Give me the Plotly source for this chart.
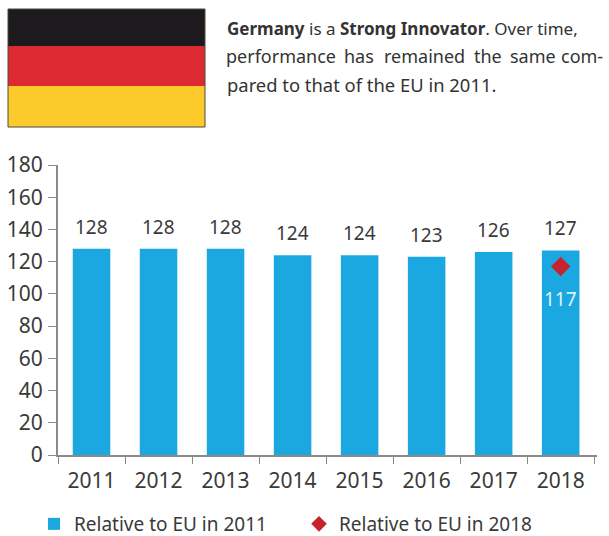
import plotly.graph_objects as go

years = ["2011", "2012", "2013", "2014", "2015", "2016", "2017", "2018"]
rel_2011 = [128, 128, 128, 124, 124, 123, 126, 127]
rel_2018_year = ["2018"]
rel_2018 = [117]
y_ticks = [0, 20, 40, 60, 80, 100, 120, 140, 160, 180]

W, H = 609, 536
L, R, T, B = 58, 12, 165, 81
FONT = "Noto Sans"
TXT = "#3a3a3a"
BLUE = "#1ba7e0"
RED = "#c5242e"


def px(x):
    return (x - L) / (W - L - R)


def py(y):
    return 1 - (y - T) / (H - T - B)


fig = go.Figure()
fig.add_bar(x=years, y=rel_2011, name="Relative to EU in 2011", marker_color=BLUE,
            marker_line_width=0, width=0.56)
fig.add_scatter(x=rel_2018_year, y=rel_2018, name="Relative to EU in 2018", mode="markers",
                marker=dict(symbol="diamond", size=15, color=RED))

anns = []
for i, v in enumerate(rel_2011):
    anns.append(dict(x=i, y=v, xref="x", yref="y", text=str(v), showarrow=False,
                     yanchor="middle", yshift=22, font=dict(size=19, color=TXT, family=FONT)))
anns.append(dict(x=years.index(rel_2018_year[0]), y=rel_2018[0], xref="x", yref="y",
                 text=str(rel_2018[0]), showarrow=False, yanchor="middle", yshift=-32,
                 font=dict(size=19, color="#dff3fb", family=FONT)))


def text_at(x, y, text, size=17):
    anns.append(dict(x=px(x), y=py(y), xref="paper", yref="paper", text=text, showarrow=False,
                     xanchor="left", yanchor="middle",
                     font=dict(size=size, color="#333333", family=FONT)))


text_at(225, 28, "<b>Germany</b> is a <b>Strong Innovator</b>. Over time,")
for x, word in [(224, "performance"), (342, "has"), (382, "remained"), (472, "the"),
                (508, "same"), (559, "com-")]:
    text_at(x, 56, word, size=18)
text_at(225, 84, "pared to that of the EU in 2011.", size=18.4)

shapes = []
for y0, y1, col in [(9, 46, "#1c1a1c"), (46, 86, "#dd2a32"), (86, 127, "#fdca2c")]:
    shapes.append(dict(type="rect", xref="paper", yref="paper", x0=px(8), x1=px(205),
                       y0=py(y0), y1=py(y1), fillcolor=col, line_width=0, layer="above"))
shapes.append(dict(type="rect", xref="paper", yref="paper", x0=px(8), x1=px(205),
                   y0=py(9), y1=py(127), fillcolor="rgba(0,0,0,0)",
                   line=dict(color="#4a4a3a", width=1), layer="above"))

fig.update_layout(
    width=W, height=H, margin=dict(l=L, r=R, t=T, b=B, autoexpand=False),
    paper_bgcolor="white", plot_bgcolor="white",
    font=dict(family=FONT, color=TXT, size=19),
    annotations=anns, shapes=shapes, showlegend=True,
    legend=dict(orientation="h", x=px(34), y=py(524), xanchor="left", yanchor="middle",
                font=dict(size=19, color=TXT, family=FONT), entrywidth=220, entrywidthmode="pixels",
                itemwidth=30, itemsizing="constant", bgcolor="rgba(0,0,0,0)", tracegroupgap=0),
    xaxis=dict(type="category", tickson="boundaries", ticks="outside", ticklen=7, tickcolor="#8a8a8a",
               showline=True, linecolor="#8a8a8a", linewidth=2, showgrid=False, tickangle=0,
               ticklabelstandoff=6, tickfont=dict(size=21, color=TXT, family=FONT)),
    yaxis=dict(range=[0, 180], tickmode="array", tickvals=y_ticks, ticks="outside", ticklen=8,
               tickcolor="#8a8a8a", showline=True, linecolor="#8a8a8a", linewidth=2, showgrid=False,
               zeroline=False, ticklabelstandoff=1, tickfont=dict(size=21, color=TXT, family=FONT)),
)
fig.write_html("out.html", post_script="document.body.style.margin='0';",
               config={"displayModeBar": False})
